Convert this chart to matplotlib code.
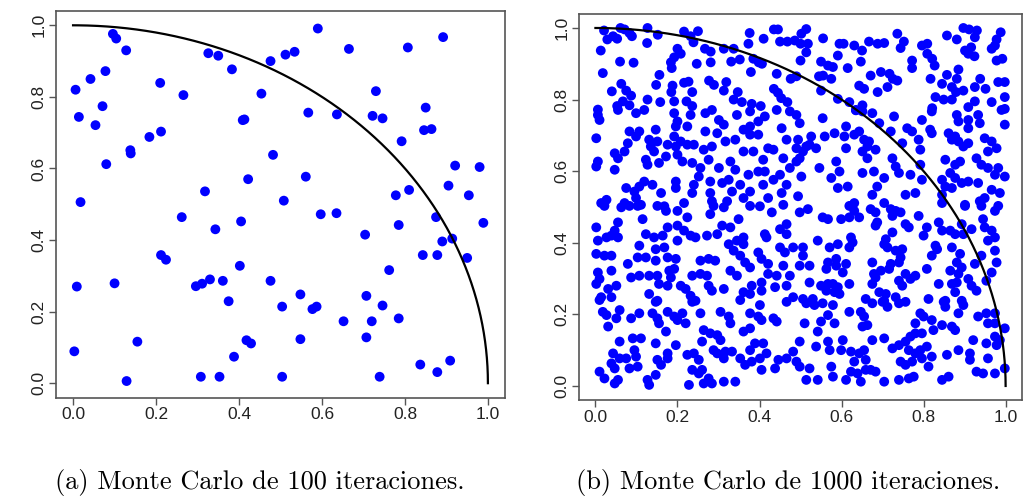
import numpy as np
import matplotlib
matplotlib.use("Agg")
import matplotlib.pyplot as plt

# Axis ticks shared by both panels
ticks = [0.0, 0.2, 0.4, 0.6, 0.8, 1.0]
tick_labels = ["0.0", "0.2", "0.4", "0.6", "0.8", "1.0"]
captions = ["(a) Monte Carlo de 100 iteraciones.",
            "(b) Monte Carlo de 1000 iteraciones."]

# Panel (a): 100 random points (x, y)
pts_100 = [
    (0.096, 0.976), (0.104, 0.963), (0.128, 0.930), (0.078, 0.872), (0.042, 0.850),
    (0.006, 0.820), (0.210, 0.839), (0.266, 0.805), (0.326, 0.922), (0.350, 0.915),
    (0.383, 0.877), (0.476, 0.900), (0.512, 0.918), (0.534, 0.926), (0.454, 0.809),
    (0.071, 0.774), (0.014, 0.744), (0.054, 0.721), (0.409, 0.735), (0.413, 0.737),
    (0.184, 0.688), (0.212, 0.703), (0.138, 0.651), (0.139, 0.642), (0.080, 0.612),
    (0.482, 0.638), (0.422, 0.570), (0.318, 0.536), (0.018, 0.506), (0.508, 0.510),
    (0.590, 0.991), (0.665, 0.934), (0.807, 0.938), (0.892, 0.967), (0.730, 0.816),
    (0.567, 0.756), (0.636, 0.751), (0.722, 0.747), (0.746, 0.740), (0.850, 0.770),
    (0.846, 0.707), (0.864, 0.710), (0.792, 0.676), (0.561, 0.577), (0.921, 0.608),
    (0.980, 0.604), (0.905, 0.552), (0.954, 0.525), (0.778, 0.525), (0.810, 0.540),
    (0.262, 0.464), (0.343, 0.430), (0.405, 0.452), (0.212, 0.358), (0.224, 0.345),
    (0.402, 0.328), (0.009, 0.270), (0.100, 0.279), (0.296, 0.271), (0.311, 0.278),
    (0.330, 0.290), (0.361, 0.286), (0.375, 0.229), (0.476, 0.286), (0.504, 0.214),
    (0.155, 0.116), (0.003, 0.089), (0.418, 0.120), (0.429, 0.111), (0.388, 0.074),
    (0.129, 0.006), (0.308, 0.018), (0.353, 0.018), (0.504, 0.018), (0.597, 0.472),
    (0.635, 0.475), (0.704, 0.415), (0.785, 0.442), (0.875, 0.464), (0.989, 0.448),
    (0.890, 0.396), (0.914, 0.404), (0.843, 0.358), (0.878, 0.358), (0.950, 0.350),
    (0.762, 0.316), (0.548, 0.248), (0.577, 0.207), (0.587, 0.214), (0.707, 0.244),
    (0.746, 0.217), (0.652, 0.173), (0.720, 0.173), (0.785, 0.181), (0.548, 0.123),
    (0.707, 0.128), (0.837, 0.052), (0.878, 0.031), (0.909, 0.063), (0.739, 0.018),
]

# Panel (b): 1000 random points, grouped by region of the unit square
pts_top_left = [
    (0.021, 0.993), (0.029, 0.968), (0.043, 0.977), (0.053, 0.970), (0.061, 1.000),
    (0.071, 0.996), (0.083, 0.986), (0.089, 0.977), (0.127, 1.000), (0.126, 0.958),
    (0.152, 0.981), (0.013, 0.937), (0.060, 0.906), (0.093, 0.903), (0.018, 0.874),
    (0.040, 0.823), (0.063, 0.844), (0.075, 0.825), (0.087, 0.811), (0.067, 0.795),
    (0.053, 0.782), (0.083, 0.784), (0.127, 0.800), (0.148, 0.841), (0.156, 0.869),
    (0.184, 0.904), (0.200, 0.942), (0.192, 0.918), (0.186, 0.888), (0.208, 0.928),
    (0.188, 0.839), (0.185, 0.821), (0.216, 0.847), (0.227, 0.850), (0.247, 0.900),
    (0.236, 0.821), (0.222, 0.795), (0.236, 0.782), (0.216, 0.990), (0.232, 0.977),
    (0.250, 0.991), (0.239, 0.960), (0.267, 0.942), (0.281, 0.934), (0.281, 0.904),
    (0.277, 0.853), (0.289, 0.841), (0.313, 0.942), (0.319, 0.849), (0.313, 0.825),
    (0.331, 0.906), (0.337, 0.942), (0.352, 0.912), (0.347, 0.821), (0.357, 0.793),
    (0.376, 0.986), (0.373, 0.956), (0.379, 0.877), (0.385, 0.914), (0.410, 0.970),
    (0.406, 0.900), (0.381, 0.788), (0.403, 0.782), (0.435, 0.996), (0.445, 0.996),
    (0.450, 0.962), (0.468, 0.962), (0.486, 0.965), (0.442, 0.872), (0.435, 0.830),
    (0.445, 0.819), (0.453, 0.804), (0.468, 0.793), (0.476, 0.858), (0.490, 0.865),
    (0.006, 0.772), (0.158, 0.793), (0.192, 0.795), (0.337, 0.800), (0.398, 0.904),
]
pts_top_right = [
    (0.514, 0.997), (0.502, 0.984), (0.518, 0.956), (0.500, 0.956), (0.514, 0.932),
    (0.500, 0.909), (0.555, 0.971), (0.595, 0.956), (0.605, 0.956), (0.591, 0.923),
    (0.550, 0.906), (0.567, 0.895), (0.579, 0.891), (0.615, 0.888), (0.631, 0.951),
    (0.650, 0.937), (0.647, 0.906), (0.667, 0.962), (0.688, 0.956), (0.704, 0.958),
    (0.736, 0.984), (0.752, 0.962), (0.744, 0.944), (0.671, 0.867), (0.696, 0.877),
    (0.717, 0.872), (0.725, 0.858), (0.736, 0.853), (0.643, 0.839), (0.655, 0.830),
    (0.688, 0.821), (0.712, 0.835), (0.555, 0.867), (0.545, 0.865), (0.575, 0.858),
    (0.550, 0.825), (0.591, 0.802), (0.619, 0.793), (0.651, 0.784), (0.635, 0.770),
    (0.796, 0.951), (0.809, 0.956), (0.809, 0.928), (0.821, 0.914), (0.827, 0.895),
    (0.772, 0.909), (0.772, 0.888), (0.817, 0.858), (0.829, 0.807), (0.821, 0.776),
    (0.857, 0.979), (0.881, 0.968), (0.897, 1.000), (0.911, 0.996), (0.930, 0.993),
    (0.925, 0.974), (0.901, 0.937), (0.916, 0.946), (0.924, 0.921), (0.909, 0.928),
    (0.966, 0.942), (0.978, 0.968), (0.988, 0.988), (0.978, 0.909), (0.992, 0.914),
    (0.857, 0.869), (0.885, 0.884), (0.881, 0.858), (0.845, 0.844), (0.869, 0.835),
    (0.879, 0.821), (0.849, 0.800), (0.869, 0.800), (0.897, 0.825), (0.925, 0.835),
    (0.938, 0.858), (0.951, 0.830), (0.982, 0.849), (0.998, 0.849), (0.966, 0.793),
    (0.998, 0.807), (0.925, 0.795), (0.909, 0.779), (0.998, 0.774), (0.974, 0.951),
]
pts_upper_mid_left = [
    (0.006, 0.757), (0.010, 0.743), (0.055, 0.771), (0.099, 0.762), (0.119, 0.771),
    (0.192, 0.762), (0.200, 0.739), (0.196, 0.725), (0.224, 0.725), (0.232, 0.757),
    (0.268, 0.762), (0.284, 0.771), (0.301, 0.743), (0.313, 0.730), (0.345, 0.757),
    (0.377, 0.767), (0.397, 0.739), (0.413, 0.753), (0.442, 0.771), (0.474, 0.767),
    (0.490, 0.757), (0.083, 0.711), (0.107, 0.711), (0.099, 0.697), (0.147, 0.716),
    (0.131, 0.688), (0.135, 0.669), (0.143, 0.655), (0.002, 0.692), (0.079, 0.678),
    (0.071, 0.655), (0.047, 0.650), (0.055, 0.636), (0.006, 0.627), (0.002, 0.613),
    (0.047, 0.604), (0.123, 0.632), (0.127, 0.618), (0.155, 0.623), (0.172, 0.641),
    (0.192, 0.697), (0.208, 0.683), (0.196, 0.669), (0.224, 0.674), (0.240, 0.674),
    (0.200, 0.646), (0.212, 0.627), (0.236, 0.623), (0.256, 0.609), (0.268, 0.711),
    (0.297, 0.706), (0.317, 0.683), (0.284, 0.669), (0.264, 0.660), (0.341, 0.688),
    (0.361, 0.716), (0.377, 0.725), (0.377, 0.702), (0.397, 0.702), (0.454, 0.720),
    (0.466, 0.688), (0.490, 0.664), (0.361, 0.655), (0.385, 0.655), (0.421, 0.664),
    (0.434, 0.660), (0.409, 0.632), (0.341, 0.604), (0.301, 0.609), (0.373, 0.590),
    (0.397, 0.599), (0.413, 0.599), (0.450, 0.590), (0.474, 0.609), (0.490, 0.627),
    (0.276, 0.632), (0.252, 0.585), (0.280, 0.571), (0.309, 0.567), (0.325, 0.576),
    (0.333, 0.543), (0.353, 0.562), (0.377, 0.543), (0.409, 0.562), (0.434, 0.576),
    (0.466, 0.562), (0.454, 0.539), (0.421, 0.525), (0.361, 0.525), (0.321, 0.516),
    (0.280, 0.539), (0.284, 0.516), (0.240, 0.562), (0.236, 0.539), (0.196, 0.571),
    (0.196, 0.553), (0.160, 0.539), (0.139, 0.562), (0.119, 0.571), (0.107, 0.557),
    (0.095, 0.543), (0.075, 0.553), (0.099, 0.525), (0.071, 0.511), (0.027, 0.520),
    (0.014, 0.511), (0.111, 0.506), (0.216, 0.511), (0.168, 0.502), (0.401, 0.502),
    (0.458, 0.506), (0.151, 0.683), (0.176, 0.674), (0.329, 0.627), (0.458, 0.636),
]
pts_upper_mid_right = [
    (0.498, 0.734), (0.494, 0.688), (0.514, 0.669), (0.498, 0.636), (0.502, 0.585),
    (0.494, 0.530), (0.526, 0.697), (0.522, 0.674), (0.538, 0.664), (0.554, 0.748),
    (0.559, 0.697), (0.546, 0.609), (0.583, 0.706), (0.611, 0.725), (0.607, 0.697),
    (0.611, 0.664), (0.587, 0.627), (0.595, 0.599), (0.575, 0.581), (0.591, 0.553),
    (0.615, 0.557), (0.635, 0.771), (0.651, 0.767), (0.675, 0.762), (0.692, 0.734),
    (0.631, 0.702), (0.643, 0.711), (0.655, 0.688), (0.663, 0.669), (0.651, 0.655),
    (0.667, 0.683), (0.683, 0.660), (0.663, 0.636), (0.651, 0.595), (0.679, 0.599),
    (0.704, 0.581), (0.687, 0.557), (0.675, 0.534), (0.631, 0.511), (0.704, 0.511),
    (0.728, 0.753), (0.720, 0.711), (0.760, 0.720), (0.772, 0.711), (0.788, 0.688),
    (0.792, 0.660), (0.748, 0.678), (0.724, 0.636), (0.732, 0.613), (0.740, 0.595),
    (0.768, 0.590), (0.792, 0.618), (0.796, 0.576), (0.780, 0.539), (0.756, 0.534),
    (0.796, 0.743), (0.820, 0.767), (0.816, 0.716), (0.820, 0.706), (0.881, 0.757),
    (0.885, 0.739), (0.909, 0.743), (0.933, 0.757), (0.937, 0.734), (0.909, 0.720),
    (0.998, 0.730), (0.990, 0.771), (0.861, 0.706), (0.869, 0.688), (0.885, 0.683),
    (0.897, 0.669), (0.909, 0.678), (0.877, 0.697), (0.853, 0.632), (0.889, 0.627),
    (0.929, 0.636), (0.949, 0.692), (0.966, 0.683), (0.957, 0.655), (0.978, 0.664),
    (0.941, 0.618), (0.957, 0.609), (0.982, 0.609), (0.974, 0.590), (0.998, 0.585),
    (0.845, 0.576), (0.865, 0.595), (0.877, 0.581), (0.893, 0.567), (0.909, 0.571),
    (0.869, 0.553), (0.845, 0.534), (0.853, 0.557), (0.933, 0.567), (0.966, 0.548),
    (0.949, 0.525), (0.986, 0.539), (0.937, 0.516), (0.901, 0.506), (0.845, 0.511),
    (0.877, 0.618), (0.506, 0.655),
]
pts_lower_mid_left = [
    (0.022, 0.503), (0.063, 0.499), (0.083, 0.503), (0.103, 0.503), (0.151, 0.503),
    (0.172, 0.489), (0.200, 0.489), (0.224, 0.471), (0.288, 0.503), (0.313, 0.499),
    (0.280, 0.480), (0.377, 0.503), (0.430, 0.485), (0.002, 0.443), (0.055, 0.457),
    (0.047, 0.434), (0.039, 0.420), (0.027, 0.415), (0.006, 0.406), (0.055, 0.415),
    (0.002, 0.369), (0.022, 0.364), (0.039, 0.364), (0.115, 0.466), (0.123, 0.424),
    (0.143, 0.415), (0.164, 0.420), (0.176, 0.443), (0.200, 0.448), (0.216, 0.434),
    (0.232, 0.420), (0.244, 0.415), (0.200, 0.406), (0.168, 0.387), (0.147, 0.382),
    (0.107, 0.392), (0.103, 0.359), (0.123, 0.359), (0.147, 0.350), (0.176, 0.359),
    (0.196, 0.355), (0.079, 0.341), (0.039, 0.322), (0.006, 0.317), (0.010, 0.299),
    (0.002, 0.285), (0.031, 0.271), (0.051, 0.280), (0.014, 0.248), (0.039, 0.248),
    (0.087, 0.303), (0.107, 0.308), (0.131, 0.308), (0.151, 0.308), (0.180, 0.322),
    (0.192, 0.327), (0.184, 0.303), (0.176, 0.280), (0.155, 0.285), (0.131, 0.257),
    (0.151, 0.238), (0.208, 0.280), (0.220, 0.271), (0.236, 0.308), (0.256, 0.313),
    (0.272, 0.308), (0.276, 0.280), (0.284, 0.266), (0.313, 0.271), (0.232, 0.252),
    (0.244, 0.238), (0.256, 0.350), (0.276, 0.355), (0.292, 0.350), (0.272, 0.420),
    (0.297, 0.424), (0.309, 0.448), (0.329, 0.443), (0.349, 0.466), (0.325, 0.396),
    (0.345, 0.406), (0.361, 0.415), (0.337, 0.378), (0.353, 0.364), (0.365, 0.345),
    (0.377, 0.331), (0.397, 0.373), (0.405, 0.355), (0.413, 0.424), (0.417, 0.415),
    (0.450, 0.438), (0.466, 0.452), (0.466, 0.424), (0.450, 0.387), (0.462, 0.373),
    (0.482, 0.387), (0.458, 0.336), (0.442, 0.308), (0.474, 0.308), (0.421, 0.341),
    (0.421, 0.313), (0.405, 0.289), (0.381, 0.280), (0.361, 0.262), (0.377, 0.257),
    (0.405, 0.266), (0.438, 0.276), (0.466, 0.280), (0.482, 0.248), (0.361, 0.396),
    (0.329, 0.322), (0.345, 0.308),
]
pts_lower_mid_right = [
    (0.518, 0.494), (0.498, 0.485), (0.554, 0.471), (0.567, 0.466), (0.599, 0.466),
    (0.619, 0.471), (0.631, 0.489), (0.619, 0.503), (0.643, 0.471), (0.671, 0.494),
    (0.683, 0.485), (0.687, 0.457), (0.683, 0.448), (0.720, 0.494), (0.732, 0.489),
    (0.744, 0.485), (0.724, 0.475), (0.756, 0.452), (0.764, 0.443), (0.788, 0.475),
    (0.808, 0.443), (0.800, 0.420), (0.837, 0.457), (0.845, 0.434), (0.865, 0.434),
    (0.877, 0.424), (0.893, 0.452), (0.897, 0.424), (0.917, 0.438), (0.901, 0.503),
    (0.941, 0.503), (0.974, 0.489), (0.982, 0.503), (0.945, 0.466), (0.949, 0.443),
    (0.966, 0.434), (0.974, 0.415), (0.957, 0.406), (0.869, 0.387), (0.829, 0.392),
    (0.833, 0.382), (0.820, 0.364), (0.808, 0.327), (0.506, 0.387), (0.506, 0.364),
    (0.498, 0.336), (0.522, 0.336), (0.542, 0.406), (0.571, 0.387), (0.591, 0.396),
    (0.623, 0.415), (0.627, 0.401), (0.619, 0.387), (0.587, 0.355), (0.567, 0.345),
    (0.563, 0.327), (0.587, 0.336), (0.611, 0.341), (0.603, 0.317), (0.675, 0.345),
    (0.679, 0.313), (0.696, 0.322), (0.708, 0.410), (0.704, 0.396), (0.724, 0.429),
    (0.712, 0.387), (0.732, 0.378), (0.748, 0.382), (0.744, 0.359), (0.740, 0.345),
    (0.756, 0.313), (0.780, 0.308), (0.768, 0.299), (0.740, 0.294), (0.748, 0.280),
    (0.720, 0.341), (0.716, 0.327), (0.683, 0.303), (0.675, 0.285), (0.522, 0.289),
    (0.550, 0.280), (0.567, 0.285), (0.579, 0.285), (0.591, 0.276), (0.563, 0.266),
    (0.583, 0.262), (0.595, 0.257), (0.619, 0.285), (0.530, 0.243), (0.506, 0.243),
    (0.659, 0.243), (0.692, 0.262), (0.704, 0.238), (0.708, 0.257), (0.732, 0.248),
    (0.837, 0.285), (0.865, 0.322), (0.885, 0.313), (0.881, 0.345), (0.893, 0.331),
    (0.869, 0.285), (0.881, 0.289), (0.909, 0.299), (0.917, 0.280), (0.929, 0.266),
    (0.925, 0.341), (0.941, 0.364), (0.974, 0.378), (0.978, 0.345), (0.966, 0.317),
    (0.953, 0.294), (0.853, 0.238), (0.877, 0.262), (0.893, 0.238), (0.812, 0.243),
    (0.889, 0.369),
]
pts_bottom_left = [
    (0.010, 0.240), (0.147, 0.235), (0.236, 0.235), (0.353, 0.240), (0.401, 0.226),
    (0.466, 0.235), (0.018, 0.207), (0.027, 0.198), (0.059, 0.212), (0.051, 0.189),
    (0.031, 0.166), (0.087, 0.189), (0.107, 0.203), (0.139, 0.203), (0.151, 0.189),
    (0.155, 0.175), (0.176, 0.207), (0.192, 0.194), (0.200, 0.184), (0.212, 0.203),
    (0.220, 0.175), (0.256, 0.203), (0.305, 0.207), (0.325, 0.194), (0.329, 0.175),
    (0.377, 0.203), (0.397, 0.194), (0.405, 0.184), (0.434, 0.189), (0.442, 0.180),
    (0.377, 0.161), (0.361, 0.152), (0.264, 0.156), (0.280, 0.147), (0.297, 0.142),
    (0.305, 0.128), (0.172, 0.152), (0.059, 0.124), (0.091, 0.133), (0.111, 0.133),
    (0.147, 0.119), (0.095, 0.100), (0.099, 0.082), (0.043, 0.091), (0.059, 0.077),
    (0.075, 0.077), (0.039, 0.063), (0.047, 0.049), (0.083, 0.049), (0.103, 0.054),
    (0.010, 0.040), (0.022, 0.021), (0.047, 0.007), (0.055, 0.017), (0.127, 0.017),
    (0.131, 0.003), (0.147, 0.031), (0.151, 0.073), (0.160, 0.059), (0.176, 0.091),
    (0.196, 0.114), (0.176, 0.077), (0.224, 0.087), (0.240, 0.091), (0.252, 0.073),
    (0.236, 0.045), (0.252, 0.035), (0.228, 0.003), (0.260, 0.045), (0.276, 0.021),
    (0.264, 0.007), (0.284, 0.007), (0.288, 0.100), (0.297, 0.091), (0.317, 0.096),
    (0.333, 0.096), (0.313, 0.077), (0.260, 0.124), (0.353, 0.077), (0.365, 0.059),
    (0.381, 0.068), (0.377, 0.100), (0.389, 0.119), (0.409, 0.119), (0.417, 0.091),
    (0.401, 0.077), (0.405, 0.045), (0.438, 0.049), (0.446, 0.073), (0.466, 0.077),
    (0.482, 0.096), (0.490, 0.068), (0.313, 0.012), (0.341, 0.012),
]
pts_bottom_right = [
    (0.514, 0.231), (0.534, 0.226), (0.554, 0.231), (0.579, 0.226), (0.619, 0.207),
    (0.647, 0.207), (0.655, 0.194), (0.675, 0.231), (0.700, 0.235), (0.740, 0.231),
    (0.756, 0.235), (0.849, 0.235), (0.853, 0.221), (0.897, 0.226), (0.885, 0.203),
    (0.792, 0.203), (0.800, 0.194), (0.820, 0.184), (0.933, 0.194), (0.953, 0.203),
    (0.974, 0.203), (0.957, 0.175), (0.974, 0.175), (0.998, 0.161), (0.780, 0.175),
    (0.796, 0.147), (0.824, 0.156), (0.845, 0.170), (0.869, 0.166), (0.877, 0.156),
    (0.510, 0.175), (0.550, 0.180), (0.567, 0.198), (0.583, 0.175), (0.651, 0.166),
    (0.663, 0.170), (0.498, 0.124), (0.542, 0.152), (0.538, 0.110), (0.567, 0.124),
    (0.571, 0.100), (0.603, 0.128), (0.599, 0.100), (0.623, 0.096), (0.631, 0.068),
    (0.643, 0.091), (0.655, 0.100), (0.659, 0.073), (0.675, 0.128), (0.704, 0.133),
    (0.724, 0.105), (0.740, 0.114), (0.756, 0.124), (0.768, 0.138), (0.780, 0.147),
    (0.764, 0.100), (0.780, 0.091), (0.792, 0.100), (0.808, 0.110), (0.796, 0.077),
    (0.820, 0.082), (0.812, 0.054), (0.744, 0.068), (0.756, 0.059), (0.772, 0.068),
    (0.857, 0.087), (0.885, 0.100), (0.913, 0.091), (0.921, 0.128), (0.953, 0.119),
    (0.974, 0.138), (0.986, 0.128), (0.978, 0.114), (0.913, 0.073), (0.957, 0.077),
    (0.498, 0.054), (0.522, 0.049), (0.514, 0.017), (0.542, 0.017), (0.575, 0.054),
    (0.579, 0.026), (0.611, 0.017), (0.623, 0.040), (0.639, 0.035), (0.647, 0.012),
    (0.659, 0.045), (0.671, 0.045), (0.683, 0.040), (0.704, 0.012), (0.740, 0.017),
    (0.764, 0.021), (0.776, 0.026), (0.845, 0.017), (0.861, 0.026), (0.929, 0.040),
    (0.945, 0.035), (0.974, 0.035), (0.998, 0.049), (0.712, 0.221),
]
pts_1000 = (pts_top_left + pts_top_right + pts_upper_mid_left + pts_upper_mid_right
            + pts_lower_mid_left + pts_lower_mid_right + pts_bottom_left + pts_bottom_right)

POINT_COLOR = "#0000FF"
FRAME_COLOR = "#555555"

fig = plt.figure(figsize=(10.25, 4.97), dpi=100)
ax_a = fig.add_axes([0.0551, 0.2002, 0.4371, 0.7777])
ax_b = fig.add_axes([0.5649, 0.1946, 0.4322, 0.7779])

theta = np.linspace(0.0, np.pi / 2, 400)

for ax, pts in ((ax_a, pts_100), (ax_b, pts_1000)):
    arr = np.array(pts)
    ax.scatter(arr[:, 0], arr[:, 1], s=50, c=POINT_COLOR, edgecolors="none",
               zorder=2, clip_on=False)
    ax.plot(np.cos(theta), np.sin(theta), color="black", lw=1.6, zorder=3)
    ax.set_xlim(-0.04, 1.04)
    ax.set_ylim(-0.04, 1.04)
    ax.set_xticks(ticks)
    ax.set_xticklabels(tick_labels, family="Liberation Sans", fontsize=12.5, color="#222222")
    ax.set_yticks(ticks)
    ax.set_yticklabels(tick_labels, family="Liberation Sans", fontsize=12.5, color="#222222",
                       rotation=90, va="center")
    ax.tick_params(direction="out", length=5, width=1.0, color=FRAME_COLOR, pad=2)
    for sp in ax.spines.values():
        sp.set_color(FRAME_COLOR)
        sp.set_linewidth(1.2)

fig.text(0.2537, 0.030, captions[0], family="cmr10", fontsize=19, ha="center", va="center")
fig.text(0.769, 0.030, captions[1], family="cmr10", fontsize=19, ha="center", va="center")

fig.savefig("out.png", dpi=100)
